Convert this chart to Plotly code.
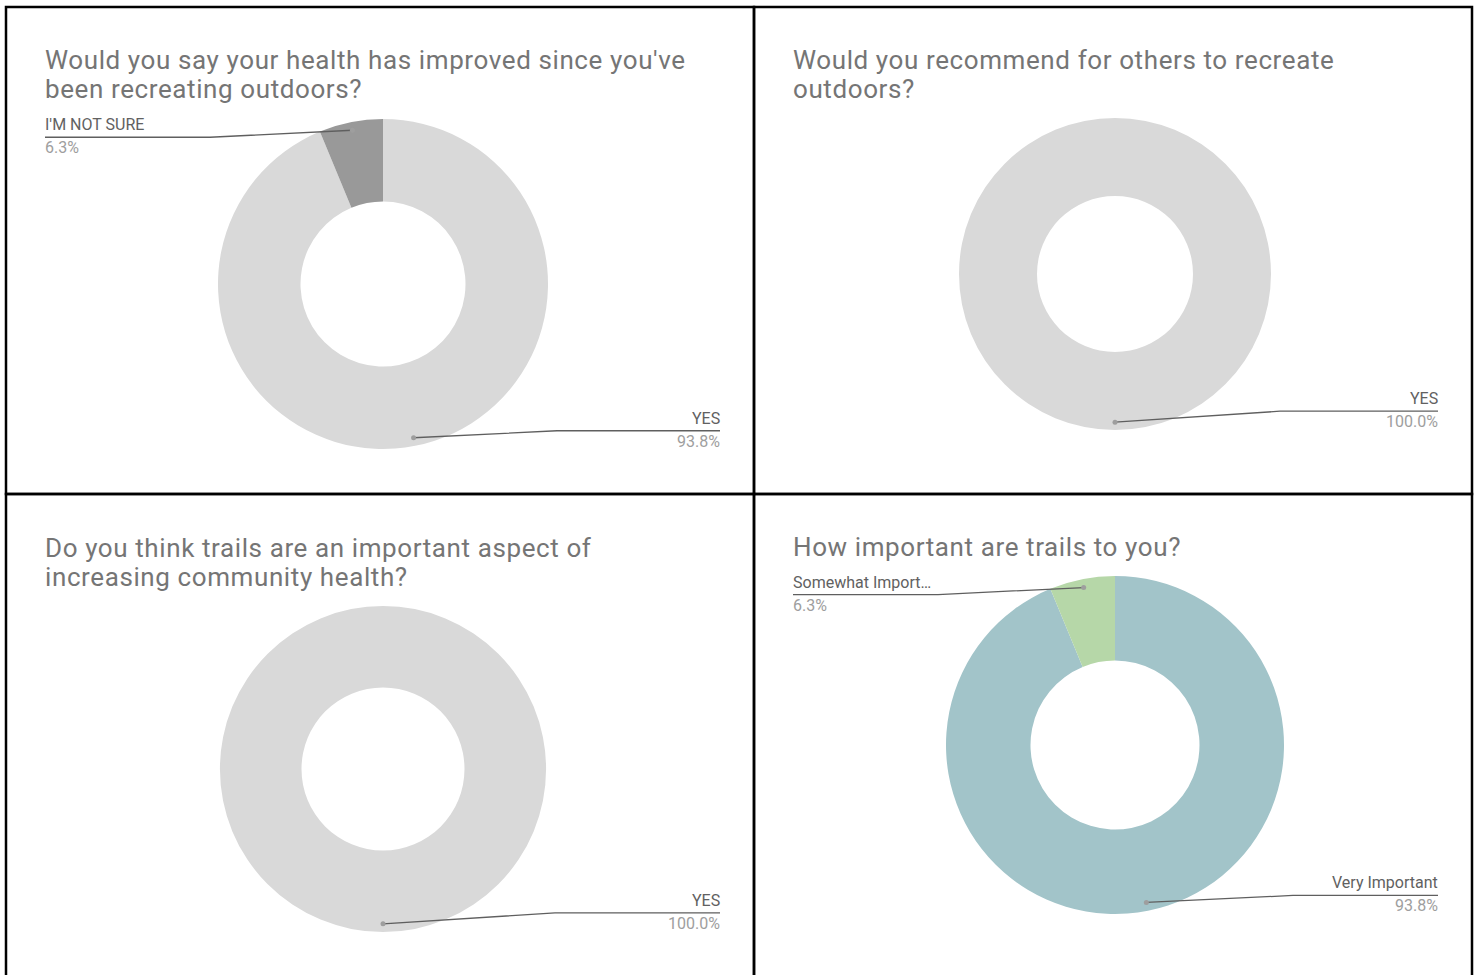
from decimal import Decimal, ROUND_HALF_UP
import math
import plotly.graph_objects as go

W, H = 1476, 975

# ---- survey data -------------------------------------------------------
q1_title = ["Would you say your health has improved since you've",
            "been recreating outdoors?"]
q1_labels = ["YES", "I'M NOT SURE"]
q1_counts = [15, 1]

q2_title = ["Would you recommend for others to recreate", "outdoors?"]
q2_labels = ["YES"]
q2_counts = [16]

q3_title = ["Do you think trails are an important aspect of",
            "increasing community health?"]
q3_labels = ["YES"]
q3_counts = [16]

q4_title = ["How important are trails to you?"]
q4_labels = ["Very Important", "Somewhat Important"]
q4_counts = [15, 1]

GREY = "#d9d9d9"
DARK_GREY = "#999999"
TEAL = "#a2c4c9"
GREEN = "#b6d7a8"

# ---- panel layout (pixel units) ----------------------------------------
panels = [
    dict(title=q1_title, labels=q1_labels, counts=q1_counts,
         colors=[GREY, DARK_GREY], box=(6, 7, 754, 494),
         cx=383, cy=284, r=165, title_y=60),
    dict(title=q2_title, labels=q2_labels, counts=q2_counts,
         colors=[GREY], box=(754, 7, 1472, 494),
         cx=1115, cy=274, r=156, title_y=60),
    dict(title=q3_title, labels=q3_labels, counts=q3_counts,
         colors=[GREY], box=(6, 494, 754, 990),
         cx=383, cy=769, r=163, title_y=548),
    dict(title=q4_title, labels=q4_labels, counts=q4_counts,
         colors=[TEAL, GREEN], box=(754, 494, 1472, 990),
         cx=1115, cy=745, r=169, title_y=547),
]

TITLE_COLOR = "#757575"
LABEL_COLOR = "#616161"
VALUE_COLOR = "#9e9e9e"
FONT = "Roboto, Arial, sans-serif"


def pct_text(count, total):
    p = Decimal(count * 100) / Decimal(total)
    return f"{p.quantize(Decimal('0.1'), rounding=ROUND_HALF_UP)}%"


def short(label, n=15):
    return label if len(label) <= n else label[:n] + "\u2026"


fig = go.Figure()
shapes = []
annotations = []

for p in panels:
    x0, y0, x1, y1 = p["box"]
    cx, cy, r = p["cx"], p["cy"], p["r"]

    fig.add_trace(go.Pie(
        labels=p["labels"], values=p["counts"], hole=0.5,
        sort=False, direction="clockwise", rotation=0,
        marker=dict(colors=p["colors"], line=dict(width=0)),
        textinfo="none", showlegend=False,
        domain=dict(x=[(cx - r) / W, (cx + r) / W],
                    y=[1 - (cy + r) / H, 1 - (cy - r) / H]),
    ))

    # panel border
    shapes.append(dict(type="rect", xref="x", yref="y", x0=x0, y0=y0,
                       x1=x1, y1=y1, line=dict(color="black", width=2.5),
                       layer="above"))

    # title lines
    left = x0 + 39
    right = x1 - 34
    for i, line in enumerate(p["title"]):
        annotations.append(dict(
            x=left - 2, y=p["title_y"] + i * 28.5, xref="x", yref="y",
            text=f'<span style="letter-spacing:0.6px">{line}</span>',
            showarrow=False, xanchor="left", yanchor="middle",
            font=dict(family=FONT, size=26, color=TITLE_COLOR)))

    # leader lines and slice labels
    total = sum(p["counts"])
    start = 0.0
    for lab, cnt in zip(p["labels"], p["counts"]):
        frac = cnt / total
        mid = (start + frac / 2) * 2 * math.pi
        start += frac
        dx = cx + 0.95 * r * math.sin(mid)
        dy = cy - 0.95 * r * math.cos(mid)
        on_right = math.sin(mid) >= -1e-9
        full = frac >= 0.999
        ly = dy - 11 if full else (dy - 7 if dy > cy else dy + 7)
        if on_right:
            ex, lx, anchor, tx = cx + r + 9, right, "right", right + 2
        else:
            ex, lx, anchor, tx = cx - r - 8, left, "left", left - 2
        shapes.append(dict(type="path", xref="x", yref="y",
                           path=f"M{dx},{dy} L{ex},{ly} L{lx},{ly}",
                           line=dict(color="#5f5f5f", width=1.3),
                           layer="above"))
        shapes.append(dict(type="circle", xref="x", yref="y",
                           x0=dx - 2.5, x1=dx + 2.5, y0=dy - 2.5, y1=dy + 2.5,
                           fillcolor="#9e9e9e", line=dict(width=0),
                           layer="above"))
        annotations.append(dict(
            x=tx, y=ly - 1, xref="x", yref="y", text=short(lab),
            showarrow=False, xanchor=anchor, yanchor="bottom",
            font=dict(family=FONT, size=16, color=LABEL_COLOR)))
        annotations.append(dict(
            x=tx, y=ly - 1, xref="x", yref="y", text=pct_text(cnt, total),
            showarrow=False, xanchor=anchor, yanchor="top",
            font=dict(family=FONT, size=16, color=VALUE_COLOR)))

fig.update_layout(
    width=W, height=H,
    margin=dict(l=0, r=0, t=0, b=0),
    paper_bgcolor="white", plot_bgcolor="rgba(0,0,0,0)",
    xaxis=dict(range=[0, W], visible=False, fixedrange=True, domain=[0, 1]),
    yaxis=dict(range=[H, 0], visible=False, fixedrange=True, domain=[0, 1]),
    shapes=shapes, annotations=annotations,
)

fig.write_html("out.html")
